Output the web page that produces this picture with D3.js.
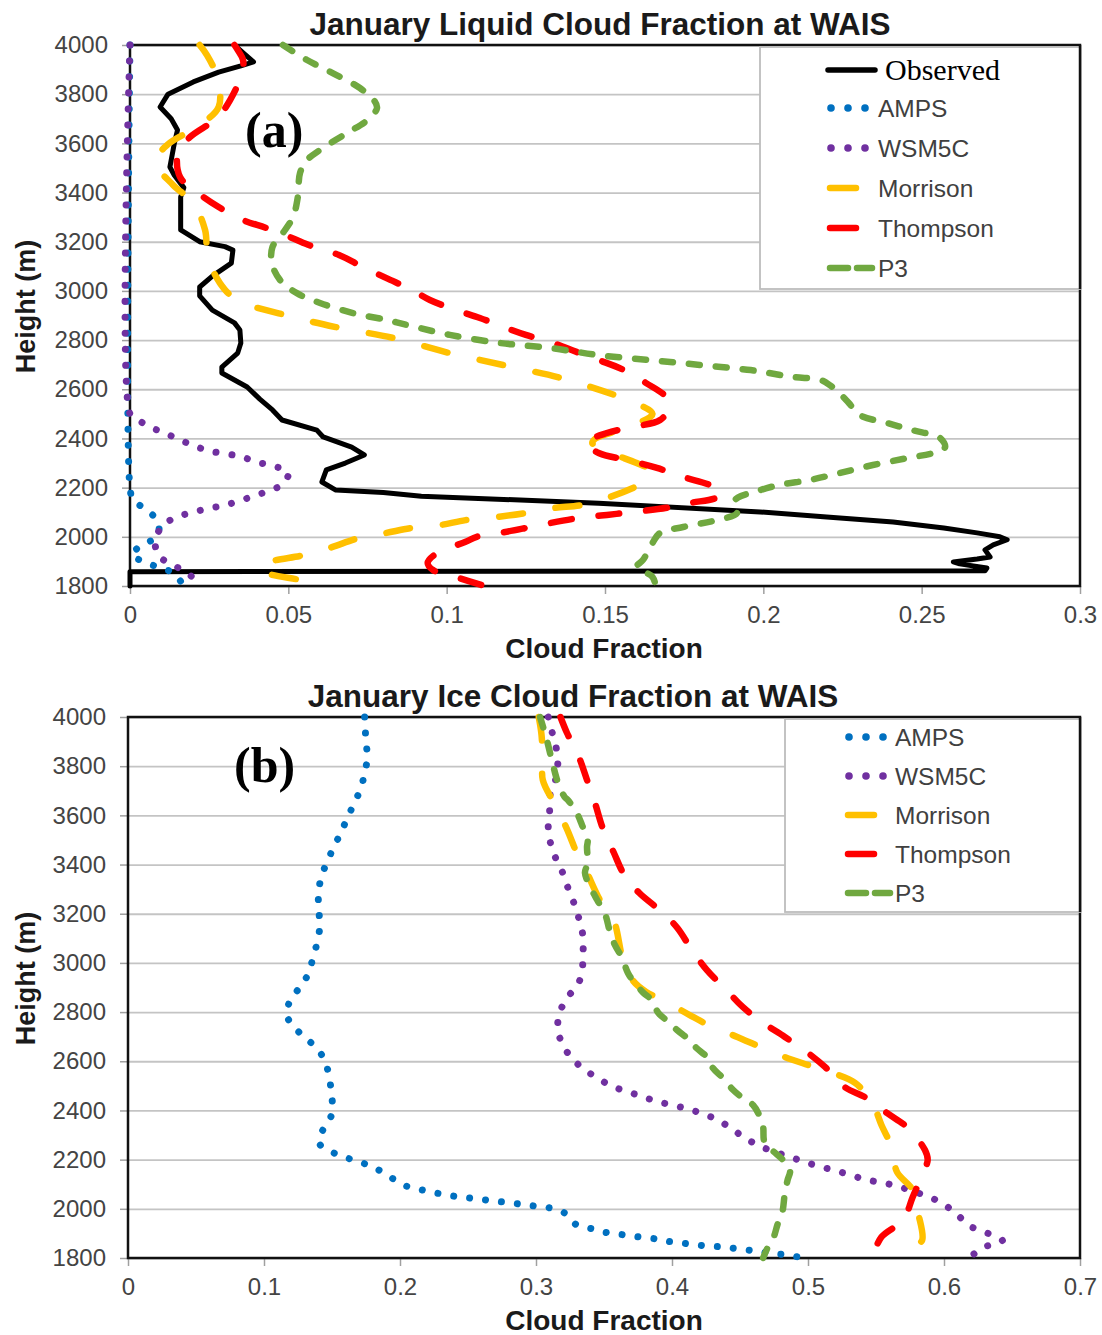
<!DOCTYPE html>
<html>
<head>
<meta charset="utf-8">
<script src="https://cdn.jsdelivr.net/npm/d3@7"></script>
<style>
  body { margin: 0; background: #fff; }
  text { font-family: "Liberation Sans", Arial, sans-serif; }
</style>
</head>
<body>
<script>
// heights (m) shared by both panels
var heightTicks = [1800, 2000, 2200, 2400, 2600, 2800, 3000, 3200, 3400, 3600, 3800, 4000];
var liqXTicks = [0, 0.05, 0.1, 0.15, 0.2, 0.25, 0.3];
var iceXTicks = [0, 0.1, 0.2, 0.3, 0.4, 0.5, 0.6, 0.7];

// (a) liquid cloud fraction, [height, fraction]
var liqObserved = [[4000,0.033],[3965,0.036],[3931,0.039],[3915,0.035],[3890,0.028],[3850,0.02],[3800,0.012],[3748,0.0095],
  [3700,0.013],[3654,0.015],[3600,0.014],[3504,0.0126],[3470,0.014],[3420,0.017],[3382,0.016],[3300,0.016],[3248,0.016],
  [3200,0.022],[3180,0.030],[3166,0.0325],[3113,0.032],[3060,0.026],[3016,0.022],[2980,0.022],[2922,0.026],[2870,0.033],
  [2841,0.0347],[2788,0.035],[2747,0.034],[2690,0.029],[2666,0.029],[2609,0.037],[2560,0.041],[2516,0.045],[2475,0.048],
  [2434,0.059],[2406,0.061],[2365,0.070],[2333,0.074],[2300,0.068],[2272,0.062],[2223,0.0606],[2190,0.065],[2180,0.08],
  [2165,0.092],[2137,0.148],[2101,0.199],[2081,0.22],[2060,0.241],[2036,0.257],[2016,0.2675],[2000,0.2747],[1988,0.277],
  [1967,0.2726],[1947,0.27],[1918,0.2716],[1910,0.2675],[1898,0.26],[1890,0.262],[1873,0.2706],[1862,0.27],[1858,0],[1800,0]];
var liqAMPS = [[4000,0],[2200,0],[2150,0.001],[2109,0.0053],[2060,0.0089],[2000,0.0085],[1967,0.0038],[1926,0.0006],
  [1898,0.0047],[1873,0.0095],[1853,0.0137],[1800,0.017]];
var liqWSM5C = [[4000,0],[2500,0],[2483,0.0016],[2447,0.0063],[2422,0.011],[2394,0.0158],[2369,0.0205],[2349,0.025],
  [2337,0.0306],[2325,0.0354],[2304,0.04],[2288,0.0452],[2263,0.05],[2215,0.0483],[2186,0.0436],[2166,0.039],[2142,0.0337],
  [2126,0.029],[2113,0.024],[2097,0.019],[2076,0.0139],[2040,0.010],[1979,0.0079],[1918,0.0095],[1885,0.0137],[1853,0.018],[1800,0.023]];
var liqMorrison = [[4000,0.022],[3959,0.0243],[3870,0.0275],[3748,0.028],[3667,0.021],[3593,0.0117],[3524,0.0079],
  [3431,0.0136],[3357,0.02],[3248,0.0237],[3138,0.0246],[3032,0.0284],[2963,0.0338],[2894,0.0515],[2853,0.065],[2809,0.083],
  [2747,0.101],[2698,0.118],[2646,0.136],[2577,0.153],[2557,0.157],[2500,0.165],[2445,0.157],[2400,0.147],[2381,0.146],
  [2340,0.152],[2300,0.16],[2272,0.164],[2240,0.164],[2219,0.162],[2162,0.1516],[2130,0.143],[2117,0.1337],[2097,0.125],
  [2081,0.116],[2068,0.106],[2048,0.098],[2036,0.089],[2016,0.081],[1996,0.0726],[1955,0.063],[1926,0.055],[1894,0.043],
  [1873,0.041],[1853,0.043],[1824,0.054],[1800,0.062]];
var liqThompson = [[4000,0.033],[3980,0.034],[3939,0.0357],[3886,0.0354],[3776,0.0316],[3703,0.0275],[3626,0.019],
  [3565,0.0152],[3463,0.0158],[3398,0.0215],[3341,0.028],[3288,0.0357],[3256,0.043],[3219,0.0505],[3179,0.058],[3146,0.066],
  [3097,0.0736],[3052,0.081],[3004,0.089],[2963,0.0947],[2922,0.103],[2890,0.1105],[2853,0.118],[2821,0.125],[2788,0.1337],
  [2752,0.141],[2719,0.148],[2678,0.156],[2625,0.163],[2565,0.1695],[2520,0.17],[2475,0.1674],[2447,0.159],[2422,0.1506],
  [2382,0.144],[2341,0.148],[2312,0.157],[2280,0.1664],[2243,0.1747],[2211,0.183],[2178,0.187],[2158,0.185],[2138,0.177],
  [2118,0.1695],[2101,0.159],[2089,0.1506],[2077,0.142],[2056,0.1326],[2036,0.125],[2016,0.117],[2000,0.1095],[1980,0.106],
  [1934,0.097],[1894,0.094],[1865,0.0957],[1832,0.104],[1800,0.112]];
var liqP3 = [[4000,0.0483],[3939,0.0559],[3886,0.064],[3825,0.0726],[3776,0.077],[3744,0.078],[3695,0.075],[3642,0.0685],
  [3573,0.06],[3532,0.0559],[3480,0.0537],[3382,0.053],[3301,0.0515],[3236,0.0483],[3179,0.045],[3113,0.0448],[3044,0.0474],
  [2991,0.0527],[2951,0.06],[2910,0.0704],[2882,0.081],[2860,0.088],[2821,0.101],[2788,0.117],[2768,0.1326],[2739,0.148],
  [2719,0.164],[2699,0.18],[2678,0.196],[2670,0.2],[2650,0.2094],[2638,0.218],[2617,0.221],[2585,0.224],[2544,0.227],
  [2495,0.2305],[2463,0.239],[2434,0.247],[2402,0.2558],[2365,0.2574],[2345,0.2548],[2320,0.2454],[2292,0.2346],[2259,0.224],
  [2231,0.2147],[2211,0.205],[2182,0.197],[2160,0.192],[2138,0.1905],[2097,0.1917],[2068,0.1853],[2040,0.1747],[2016,0.1674],
  [1975,0.165],[1906,0.162],[1878,0.16],[1837,0.165],[1800,0.166]];

// (b) ice cloud fraction, [height, fraction]
var iceAMPS = [[4000,0.174],[3898,0.175],[3837,0.176],[3772,0.174],[3707,0.171],[3646,0.166],[3585,0.161],[3524,0.156],
  [3467,0.151],[3406,0.146],[3346,0.142],[3280,0.14],[3211,0.1404],[3146,0.141],[3081,0.139],[3020,0.136],[2955,0.1325],
  [2902,0.1265],[2845,0.119],[2784,0.117],[2731,0.1235],[2686,0.1325],[2638,0.141],[2581,0.146],[2516,0.1485],[2451,0.15],
  [2386,0.15],[2329,0.144],[2268,0.1404],[2231,0.15],[2207,0.161],[2186,0.1728],[2162,0.183],[2125,0.194],[2093,0.2044],
  [2077,0.216],[2064,0.227],[2052,0.239],[2044,0.2507],[2036,0.263],[2028,0.275],[2020,0.287],[2012,0.298],[2004,0.31],
  [1983,0.321],[1934,0.33],[1918,0.342],[1902,0.353],[1894,0.365],[1885,0.3765],[1877,0.389],[1865,0.4],[1857,0.4125],
  [1849,0.425],[1845,0.4368],[1837,0.4485],[1829,0.461],[1820,0.472],[1812,0.4846],[1800,0.497]];
var iceWSM5C = [[4000,0.309],[3935,0.312],[3870,0.315],[3805,0.316],[3736,0.314],[3675,0.31],[3610,0.31],[3549,0.309],
  [3480,0.311],[3419,0.315],[3362,0.32],[3297,0.324],[3232,0.3287],[3171,0.332],[3106,0.3346],[3041,0.3346],[2975,0.334],
  [2914,0.331],[2862,0.3235],[2801,0.3176],[2735,0.316],[2674,0.319],[2617,0.3257],[2573,0.334],[2536,0.344],[2503,0.3544],
  [2479,0.3654],[2459,0.377],[2438,0.388],[2422,0.4],[2406,0.4118],[2386,0.4228],[2361,0.4338],[2325,0.444],[2288,0.4537],
  [2255,0.4647],[2231,0.4757],[2211,0.4868],[2190,0.4978],[2170,0.51],[2154,0.521],[2134,0.533],[2117,0.544],[2105,0.556],
  [2089,0.5676],[2068,0.579],[2044,0.591],[2012,0.6015],[1975,0.61],[1930,0.619],[1906,0.63],[1882,0.639],[1870,0.643],
  [1845,0.63],[1800,0.618]];
var iceMorrison = [[4000,0.302],[3930,0.304],[3825,0.305],[3744,0.305],[3634,0.315],[3541,0.323],[3447,0.33],[3366,0.3375],
  [3256,0.347],[3175,0.357],[3012,0.364],[2930,0.371],[2882,0.381],[2850,0.393],[2788,0.413],[2739,0.43],[2699,0.448],
  [2658,0.465],[2617,0.483],[2585,0.5],[2556,0.516],[2512,0.5346],[2434,0.547],[2341,0.554],[2247,0.5618],[2150,0.5654],
  [2076,0.577],[1983,0.581],[1873,0.584],[1845,0.579],[1800,0.584]];
var iceThompson = [[4000,0.318],[3935,0.3228],[3845,0.331],[3744,0.3375],[3650,0.3434],[3549,0.349],[3451,0.357],
  [3357,0.365],[3284,0.376],[3207,0.3926],[3142,0.404],[3052,0.4147],[2971,0.4257],[2890,0.44],[2821,0.452],[2756,0.467],
  [2699,0.483],[2638,0.499],[2577,0.5125],[2495,0.527],[2451,0.543],[2390,0.558],[2329,0.5735],[2239,0.586],[2199,0.588],
  [2146,0.5846],[2048,0.577],[1955,0.57],[1885,0.554],[1800,0.547]];
var iceP3 = [[4000,0.303],[3906,0.308],[3805,0.3125],[3736,0.316],[3675,0.321],[3662,0.3235],[3610,0.33],[3561,0.3338],
  [3500,0.338],[3472,0.3375],[3406,0.338],[3366,0.336],[3297,0.341],[3256,0.345],[3195,0.351],[3134,0.354],[3073,0.358],
  [3024,0.363],[2959,0.3676],[2930,0.371],[2878,0.379],[2850,0.385],[2796,0.39],[2756,0.3985],[2727,0.4037],[2686,0.413],
  [2654,0.418],[2613,0.4265],[2573,0.43],[2532,0.4375],[2483,0.445],[2451,0.452],[2422,0.4596],[2374,0.4647],[2333,0.467],
  [2272,0.468],[2239,0.4735],[2199,0.4816],[2158,0.4868],[2117,0.485],[2064,0.483],[1983,0.481],[1943,0.478],[1873,0.474],
  [1845,0.4706],[1800,0.467]];

// line styles per series
var styles = {
  Observed: {color: "#000", width: 5, dash: null, smooth: false},
  AMPS:     {color: "#0070C0", width: 7, dash: "0.01 16", smooth: true},
  WSM5C:    {color: "#7030A0", width: 7, dash: "0.01 16", smooth: true},
  Morrison: {color: "#FFC000", width: 6.5, dash: "24 33", smooth: true},
  Thompson: {color: "#FF0000", width: 6.5, dash: "21 27", smooth: true},
  P3:       {color: "#70A840", width: 6.5, dash: "11 16", smooth: true}
};

var svg = d3.select("body").append("svg")
  .attr("width", 1102).attr("height", 1335);

function drawPanel(cfg) {
  var x = d3.scaleLinear().domain([0, cfg.xmax]).range([cfg.left, cfg.right]);
  var y = d3.scaleLinear().domain([1800, 4000]).range([cfg.bottom, cfg.top]);
  var g = svg.append("g");

  // gridlines
  g.append("g")
    .attr("transform", "translate(" + cfg.left + ",0)")
    .call(d3.axisLeft(y).tickValues(heightTicks).tickSize(-(cfg.right - cfg.left)).tickFormat(""))
    .call(function(a){ a.select(".domain").remove(); })
    .selectAll("line").attr("stroke", "#c4c4c4").attr("stroke-width", 1.8);

  // y axis
  var ya = g.append("g")
    .attr("transform", "translate(" + cfg.left + ",0)")
    .call(d3.axisLeft(y).tickValues(heightTicks).tickSize(8).tickPadding(14).tickFormat(d3.format("d")));
  ya.select(".domain").remove();
  ya.selectAll("line").attr("stroke", "#a0a0a0").attr("stroke-width", 1.5);
  ya.selectAll("text").attr("font-size", 24).attr("fill", "#444")
    .style("font-family", "'Liberation Sans', Arial, sans-serif");

  // x axis
  var xa = g.append("g")
    .attr("transform", "translate(0," + cfg.bottom + ")")
    .call(d3.axisBottom(x).tickValues(cfg.xticks).tickSize(8).tickPadding(12).tickFormat(function(d){ return String(+d.toFixed(2)); }));
  xa.select(".domain").remove();
  xa.selectAll("line").attr("stroke", "#a0a0a0").attr("stroke-width", 1.5);
  xa.selectAll("text").attr("font-size", 24).attr("fill", "#444")
    .style("font-family", "'Liberation Sans', Arial, sans-serif");

  // plot frame
  g.append("rect")
    .attr("x", cfg.left).attr("y", cfg.top)
    .attr("width", cfg.right - cfg.left).attr("height", cfg.bottom - cfg.top)
    .attr("fill", "none").attr("stroke", "#111").attr("stroke-width", 2.5);

  // legend box (under the series, over the gridlines)
  var lg = cfg.legend;
  g.append("rect")
    .attr("x", lg.x0).attr("y", lg.y0)
    .attr("width", cfg.right - lg.x0).attr("height", lg.y1 - lg.y0)
    .attr("fill", "#fff").attr("stroke", "#bdbdbd").attr("stroke-width", 1.8);
  g.append("line")
    .attr("x1", cfg.right).attr("x2", cfg.right).attr("y1", cfg.top).attr("y2", lg.y1)
    .attr("stroke", "#111").attr("stroke-width", 2.5);

  // series
  cfg.series.forEach(function(s) {
    var st = styles[s.name];
    var line = d3.line()
      .x(function(d){ return x(d[1]); })
      .y(function(d){ return y(d[0]); })
      .curve(st.smooth ? d3.curveCatmullRom.alpha(0.5) : d3.curveLinear);
    g.append("path")
      .datum(s.data)
      .attr("d", line)
      .attr("fill", "none")
      .attr("stroke", st.color)
      .attr("stroke-width", st.width)
      .attr("stroke-linecap", "round")
      .attr("stroke-linejoin", "round")
      .attr("stroke-dasharray", st.dash);
  });

  // legend entries
  cfg.series.forEach(function(s, i) {
    var st = styles[s.name];
    var yy = lg.rows[i];
    var sx0 = lg.sx0, sx1 = lg.sx1;
    if (s.name === "AMPS" || s.name === "WSM5C") {
      [0, 1, 2].forEach(function(k) {
        g.append("circle").attr("cx", sx0 + 3 + k * 17).attr("cy", yy).attr("r", 3.8).attr("fill", st.color);
      });
    } else if (s.name === "P3") {
      g.append("line").attr("x1", sx0 + 2).attr("x2", sx0 + 20).attr("y1", yy).attr("y2", yy)
        .attr("stroke", st.color).attr("stroke-width", 6.5).attr("stroke-linecap", "round");
      g.append("line").attr("x1", sx0 + 29).attr("x2", sx0 + 44).attr("y1", yy).attr("y2", yy)
        .attr("stroke", st.color).attr("stroke-width", 6.5).attr("stroke-linecap", "round");
    } else if (s.name === "Observed") {
      g.append("line").attr("x1", sx0).attr("x2", sx1 + 2).attr("y1", yy).attr("y2", yy)
        .attr("stroke", "#000").attr("stroke-width", 5.5).attr("stroke-linecap", "round");
    } else {
      g.append("line").attr("x1", sx0 + 2).attr("x2", sx0 + 28).attr("y1", yy).attr("y2", yy)
        .attr("stroke", st.color).attr("stroke-width", 6.5).attr("stroke-linecap", "round");
    }
    if (s.name === "Observed") {
      g.append("text").attr("x", lg.tx + 7).attr("y", yy + 10)
        .attr("font-size", 30).attr("fill", "#000")
        .style("font-family", "'Liberation Serif', 'Times New Roman', serif")
        .text("Observed");
    } else {
      g.append("text").attr("x", lg.tx).attr("y", yy).attr("dy", "0.35em")
        .attr("font-size", 24.5).attr("fill", "#404040")
        .text(s.name);
    }
  });

  // titles
  g.append("text").attr("x", cfg.titleX).attr("y", cfg.top - 10)
    .attr("text-anchor", "middle").attr("font-size", 31.5).attr("font-weight", "bold").attr("fill", "#1a1a1a")
    .text(cfg.title);
  g.append("text").attr("x", 604).attr("y", cfg.bottom + 72)
    .attr("text-anchor", "middle").attr("font-size", 28).attr("font-weight", "bold").attr("fill", "#1a1a1a")
    .text("Cloud Fraction");
  g.append("text")
    .attr("transform", "translate(35," + ((cfg.top + cfg.bottom) / 2 - 9) + ") rotate(-90)")
    .attr("text-anchor", "middle").attr("font-size", 27).attr("font-weight", "bold").attr("fill", "#1a1a1a")
    .text("Height (m)");

  // panel letter
  g.append("text").attr("x", cfg.letterX).attr("y", cfg.letterY)
    .attr("font-size", 50).attr("font-weight", "bold").attr("fill", "#000")
    .style("font-family", "'Liberation Serif', 'Times New Roman', serif")
    .text(cfg.letter);
}

drawPanel({
  left: 130, right: 1080, top: 45, bottom: 586, xmax: 0.3, xticks: liqXTicks,
  title: "January Liquid Cloud Fraction at WAIS", titleX: 600,
  letter: "(a)", letterX: 245, letterY: 147,
  legend: {x0: 760, y0: 47, y1: 289, sx0: 828, sx1: 873, tx: 878, rows: [70, 108, 148, 188, 228, 268]},
  series: [
    {name: "Observed", data: liqObserved},
    {name: "AMPS", data: liqAMPS},
    {name: "WSM5C", data: liqWSM5C},
    {name: "Morrison", data: liqMorrison},
    {name: "Thompson", data: liqThompson},
    {name: "P3", data: liqP3}
  ]
});

drawPanel({
  left: 128, right: 1080, top: 717, bottom: 1258, xmax: 0.7, xticks: iceXTicks,
  title: "January Ice Cloud Fraction at WAIS", titleX: 573,
  letter: "(b)", letterX: 234, letterY: 782,
  legend: {x0: 785, y0: 719, y1: 912, sx0: 846, sx1: 888, tx: 895, rows: [737, 776, 815, 854, 893]},
  series: [
    {name: "AMPS", data: iceAMPS},
    {name: "WSM5C", data: iceWSM5C},
    {name: "Morrison", data: iceMorrison},
    {name: "Thompson", data: iceThompson},
    {name: "P3", data: iceP3}
  ]
});
</script>
</body>
</html>
